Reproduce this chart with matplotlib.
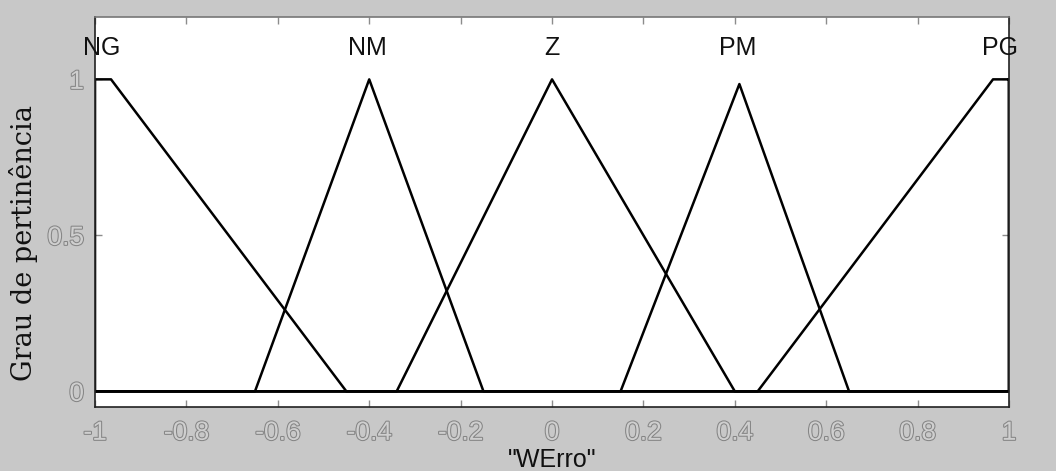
import matplotlib
matplotlib.use("Agg")
import matplotlib.pyplot as plt
import matplotlib.patheffects as pe
import numpy as np

# Membership functions of the "WErro" input variable
mf_names = ["NG", "NM", "Z", "PM", "PG"]
mf_types = ["trapmf", "trimf", "trimf", "trimf", "trapmf"]
mf_params = [
    [-1.0, -1.0, -0.965, -0.45],
    [-0.65, -0.40, -0.15],
    [-0.34, 0.0, 0.40],
    [0.15, 0.41, 0.65],
    [0.45, 0.965, 1.0, 1.0],
]
mf_peaks = [1.0, 1.0, 1.0, 0.985, 1.0]
label_x = [-0.985, -0.404, 0.0, 0.407, 0.98]

x_range = [-1.0, 1.0]
x_ticks = [-1, -0.8, -0.6, -0.4, -0.2, 0, 0.2, 0.4, 0.6, 0.8, 1]
x_ticklabels = ["-1", "-0.8", "-0.6", "-0.4", "-0.2", "0", "0.2", "0.4", "0.6", "0.8", "1"]
y_ticks = [0, 0.5, 1]
y_ticklabels = ["0", "0.5", "1"]
x_label = '"WErro"'
y_label = "Grau de pertinência"


def vertices(kind, p, peak):
    lo, hi = x_range
    if kind == "trimf":
        a, b, c = p
        xs = [lo, a, b, c, hi]
        ys = [0, 0, peak, 0, 0]
    else:
        a, b, c, d = p
        xs = [lo, a, b, c, d, hi]
        ys = [0, 0 if a > lo else peak, peak, peak, 0, 0 if d < hi else peak]
    return xs, ys


bg = "#c8c8c8"
tick_grey = "#8c8c8c"

fig = plt.figure(figsize=(10.56, 4.71), dpi=100, facecolor=bg)
ax = fig.add_axes([0.090, 0.136, 0.8655, 0.828])
ax.set_facecolor("white")

for kind, p, pk in zip(mf_types, mf_params, mf_peaks):
    xs, ys = vertices(kind, p, pk)
    ax.plot(xs, ys, color="black", lw=1.8, solid_joinstyle="round")

for name, lx in zip(mf_names, label_x):
    ax.text(lx, 1.10, name, ha="center", va="center",
            fontsize=18, family="Liberation Sans", color="#111111")

ax.set_xlim(-1, 1)
ax.set_ylim(-0.05, 1.2)
ax.set_xticks(x_ticks)
ax.set_xticklabels(x_ticklabels)
ax.set_yticks(y_ticks)
ax.set_yticklabels(y_ticklabels)
ax.tick_params(direction="in", length=5, width=1, colors=tick_grey,
               top=True, right=True, labelsize=19)
ax.tick_params(axis="x", pad=10)
ax.tick_params(axis="y", pad=8)

# Outlined grey tick labels
outline = [pe.withStroke(linewidth=1.5, foreground="#858585")]
for lab in ax.get_xticklabels() + ax.get_yticklabels():
    lab.set_family("Liberation Sans")
    lab.set_color("#cfcfcf")
    lab.set_path_effects(outline)

for side, sp in ax.spines.items():
    sp.set_color("#222222" if side != "top" else "#777777")
    sp.set_linewidth(1.2)

ax.set_xlabel(x_label, fontsize=18, family="Liberation Sans", color="#111111", labelpad=2)
ax.set_ylabel(y_label, fontsize=19.5, family="DejaVu Serif", color="#111111", labelpad=4)
ax.yaxis.set_label_coords(-0.062, 0.42)

fig.savefig("out.png", dpi=100, facecolor=bg)
